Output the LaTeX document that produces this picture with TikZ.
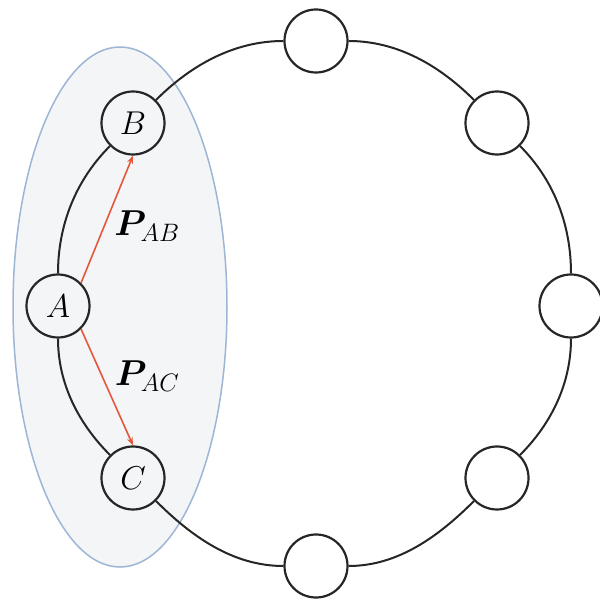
\RequirePackage{fix-cm}
\documentclass[tikz,border=0pt]{standalone}
\usepackage{bm}
\usetikzlibrary{arrows.meta}
\definecolor{ellfill}{HTML}{F4F5F7}
\definecolor{elldraw}{HTML}{9DB6D6}
\definecolor{arrred}{HTML}{E4573D}
\tikzset{
  peer/.style={circle,draw=black!85,line width=2.2pt,minimum size=63pt,inner sep=0pt,
    font=\fontsize{33}{36}\selectfont},
  ring/.style={draw=black!85,line width=2pt,looseness=0.9},
  pvec/.style={draw=arrred,line width=1.6pt,-{Stealth[length=8pt,width=6pt]}},
  plabel/.style={font=\fontsize{36}{40}\selectfont}
}
\begin{document}
\begin{tikzpicture}[x=1pt,y=1pt]
\useasboundingbox (0,0) rectangle (600,603);
\fill[ellfill] (120,296) ellipse [x radius=107, y radius=260];
\draw[elldraw,line width=1.5pt] (120,296) ellipse [x radius=107, y radius=260];
\node[peer] (top) at (316,562) {};
\node[peer] (tr) at (497,480) {};
\node[peer] (r) at (571,297) {};
\node[peer] (br) at (497,125) {};
\node[peer] (bot) at (316,37) {};
\node[peer] (C) at (133,125) {$C$};
\node[peer] (A) at (58,297) {$A$};
\node[peer] (B) at (133,480) {$B$};
\path[ring] (top) to[out=0,in=135] (tr);
\path[ring] (tr) to[out=-45,in=90] (r);
\path[ring] (r) to[out=-90,in=45] (br);
\path[ring] (br) to[out=-135,in=0] (bot);
\path[ring] (bot) to[out=180,in=-45] (C);
\path[ring] (C) to[out=135,in=-90] (A);
\path[ring] (A) to[out=90,in=-135] (B);
\path[ring] (B) to[out=45,in=180] (top);
\draw[pvec] (A.north east) -- (B.south);
\draw[pvec] (A.south east) -- (C.north);
\node[plabel] (pab) at (147,377) {$\bm{P}_{AB}$};
\node[plabel] (pac) at (147,227) {$\bm{P}_{AC}$};
\end{tikzpicture}
\end{document}
